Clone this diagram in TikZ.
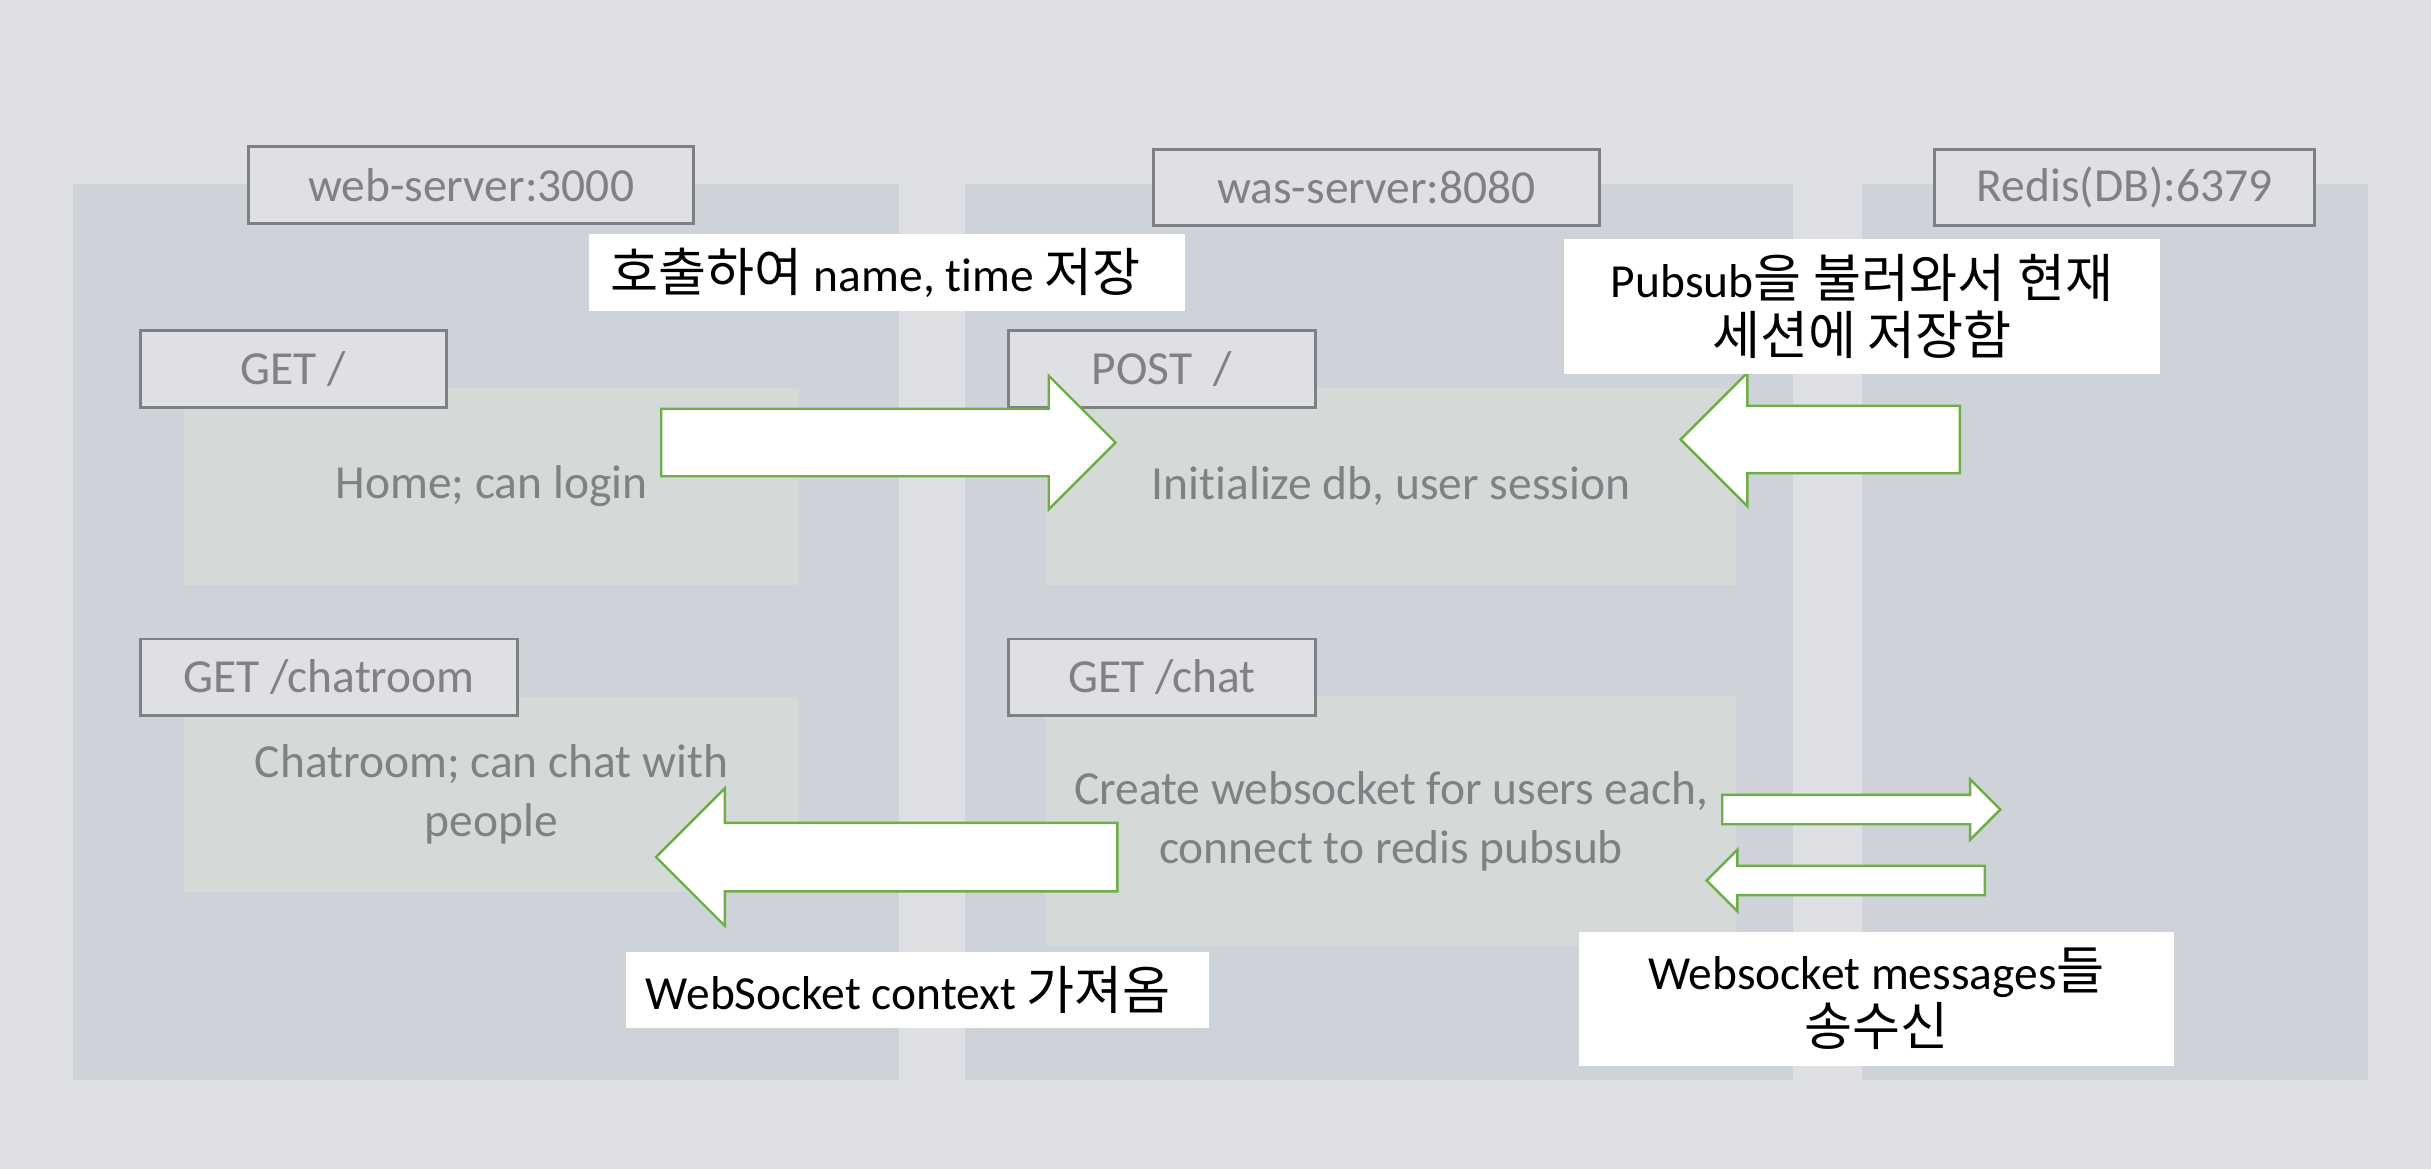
\documentclass[tikz,border=0pt]{standalone}
\usepackage{fontspec}
\setmainfont{Carlito}[Ligatures=NoCommon]
\newfontfamily\kr[Scale=1.1]{Noto Sans CJK KR}
\usetikzlibrary{shapes.arrows}

\begin{document}
\begin{tikzpicture}[x=0.01cm,y=-0.01cm,
  panel/.style={shape=rectangle,fill=chat_panel,inner sep=0pt},
  route/.style={shape=rectangle,fill=chat_inner,text=chat_text,align=center,inner sep=0pt,font=\fontsize{13.5}{16.8}\selectfont},
  titlebox/.style={shape=rectangle,draw=chat_line,line width=0.85pt,fill=chat_bg,text=chat_text,inner sep=0pt,minimum height=0.76cm,font=\fontsize{13.5}{16.8}\selectfont},
  note/.style={shape=rectangle,fill=white,text=black,align=center,inner sep=0pt,font=\fontsize{13.5}{16}\selectfont},
  fatarrow/.style={single arrow,draw=chat_green,fill=white,line width=0.7pt,inner sep=0pt,single arrow tip angle=90,anchor=tail}]
\definecolor{chat_bg}{RGB}{222,224,228}
\definecolor{chat_panel}{RGB}{206,211,218}
\definecolor{chat_inner}{RGB}{212,218,216}
\definecolor{chat_line}{RGB}{127,128,132}
\definecolor{chat_text}{RGB}{127,129,133}
\definecolor{chat_green}{RGB}{112,173,71}

\fill[chat_bg] (0,0) rectangle (2431,1169);
\useasboundingbox (0,0) rectangle (2431,1169);

% servers
\node[panel,minimum width=8.26cm,minimum height=8.96cm] (web) at (486,632) {};
\node[panel,minimum width=8.28cm,minimum height=8.96cm] (was) at (1379,632) {};
\node[panel,minimum width=5.06cm,minimum height=8.96cm] (redis) at (2115,632) {};

\node[route,minimum width=6.15cm,minimum height=1.97cm] (home) at (491.5,486.5) {Home; can login};
\node[route,minimum width=6.90cm,minimum height=1.97cm] (init) at (1391,486.5) {Initialize db, user session};
\node[route,minimum width=6.15cm,minimum height=1.95cm] (room) at (491.5,794.5) {Chatroom; can chat with\\people};
\node[route,minimum width=6.90cm,minimum height=2.50cm] (sock) at (1391,821) {Create websocket for users each,\\connect to redis pubsub};

\node[titlebox,minimum width=4.44cm] (web_t) at (471,185) {web-server:3000};
\node[titlebox,minimum width=4.45cm] (was_t) at (1376.5,187.5) {was-server:8080};
\node[titlebox,minimum width=3.79cm] (redis_t) at (2124.5,187.5) {Redis(DB):6379};
\node[titlebox,minimum width=3.05cm] (home_t) at (293.5,369) {GET /};
\node[titlebox,minimum width=3.06cm] (init_t) at (1162,369) {POST\ \ /};
\node[titlebox,minimum width=3.76cm] (room_t) at (329,677) {GET /chatroom};
\node[titlebox,minimum width=3.06cm] (sock_t) at (1162,677) {GET /chat};

% arrows
\node[fatarrow,minimum height=4.54cm,inner ysep=0.325cm,single arrow head extend=0.33cm] (a_login) at (660,442.5) {};
\node[fatarrow,shape border rotate=180,minimum height=2.79cm,inner ysep=0.325cm,single arrow head extend=0.33cm] (a_pubsub) at (1961,439.5) {};
\node[fatarrow,shape border rotate=180,minimum height=4.61cm,inner ysep=0.33cm,single arrow head extend=0.345cm] (a_ctx) at (1118.5,857) {};
\node[fatarrow,minimum height=2.78cm,inner ysep=0.135cm,single arrow head extend=0.155cm] (a_send) at (1721,809.5) {};
\node[fatarrow,shape border rotate=180,minimum height=2.78cm,inner ysep=0.135cm,single arrow head extend=0.16cm] (a_recv) at (1986,880.5) {};

% notes
\node[note,minimum width=5.96cm,minimum height=0.77cm,text width=5.52cm,align=flush left,inner xsep=0.22cm] (n_call) at (887,272.5) {{\kr 호출하여} name, time {\kr 저장}};
\node[note,minimum width=5.96cm,minimum height=1.35cm] (n_pubsub) at (1862,306.5) {Pubsub{\kr 을 불러와서 현재}\\{\kr 세션에 저장함}};
\node[note,minimum width=5.83cm,minimum height=0.76cm,text width=5.43cm,align=flush left,inner xsep=0.2cm] (n_ctx) at (917.5,990) {WebSocket context {\kr 가져옴}};
\node[note,minimum width=5.95cm,minimum height=1.34cm] (n_msgs) at (1876.5,999) {Websocket messages{\kr 들}\\{\kr 송수신}};
\end{tikzpicture}
\end{document}
